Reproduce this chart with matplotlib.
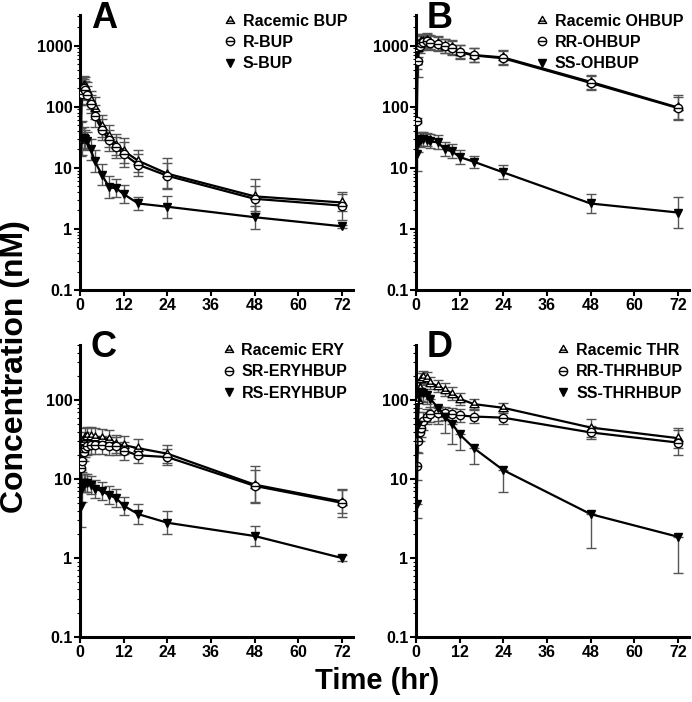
import numpy as np
import matplotlib
matplotlib.use("Agg")
import matplotlib.pyplot as plt
from matplotlib.path import Path
from matplotlib.lines import Line2D
from matplotlib.ticker import LogLocator, NullFormatter, FixedLocator

plt.rcParams['font.family'] = ['Liberation Sans', 'DejaVu Sans']

# sampling times (hr)
time_hr = [0.25, 0.5, 1, 1.5, 2, 3, 4, 6, 8, 10, 12, 16, 24, 48, 72]

# geometric means (nM) and fold spread (error bars are mean*/fold)
# panel A - bupropion
bup_rac = [170, 200, 230, 220, 180, 130, 95, 48, 33, 24, 19, 13, 8, 3.4, 2.7]
bup_rac_f = [1.6, 1.5, 1.4, 1.4, 1.4, 1.4, 1.5, 1.5, 1.5, 1.5, 1.6, 1.5, 1.8, 1.9, 1.4]
bup_r = [30, 160, 200, 190, 155, 110, 71, 42, 28, 21.5, 16.7, 11.2, 7.4, 3.1, 2.4]
bup_r_f = [1.5, 1.5, 1.4, 1.4, 1.4, 1.4, 1.5, 1.5, 1.5, 1.5, 1.6, 1.5, 1.6, 1.6, 1.7]
bup_s = [30, 31, 31, 30, 27, 20, 13, 7.7, 4.8, 4.6, 3.7, 2.6, 2.3, 1.55, 1.1]
bup_s_f = [1.9, 1.9, 1.5, 1.4, 1.4, 1.5, 1.5, 1.5, 1.5, 1.4, 1.4, 1.3, 1.5, 1.55, 1.05]

# panel B - hydroxybupropion
oh_rac = [570, 900, 1100, 1200, 1200, 1250, 1150, 1100, 1000, 950, 800, 700, 640, 255, 97]
oh_rac_f = [1.4, 1.4, 1.3, 1.3, 1.3, 1.3, 1.3, 1.3, 1.3, 1.3, 1.3, 1.3, 1.3, 1.3, 1.6]
oh_rr = [59, 550, 1000, 1100, 1150, 1200, 1100, 1050, 980, 920, 780, 690, 620, 245, 95]
oh_rr_f = [1.1, 1.8, 1.3, 1.3, 1.3, 1.3, 1.3, 1.3, 1.3, 1.3, 1.3, 1.3, 1.3, 1.3, 1.5]
oh_ss = [17, 25, 28, 30, 30, 29, 27, 26, 20, 18.5, 15, 12.5, 8.4, 2.6, 1.85]
oh_ss_f = [1.9, 1.4, 1.3, 1.3, 1.3, 1.3, 1.3, 1.3, 1.3, 1.3, 1.3, 1.25, 1.3, 1.45, 1.8]

# panel C - erythrohydrobupropion
ery_rac = [18, 25, 30, 34, 35, 35, 34, 33, 32, 28, 27, 24.6, 21, 8.5, 5.2]
ery_rac_f = [1.4, 1.4, 1.3, 1.3, 1.3, 1.3, 1.3, 1.3, 1.3, 1.3, 1.3, 1.3, 1.3, 1.7, 1.4]
ery_sr = [14, 17, 22, 25, 26, 27, 27, 27, 26, 26, 23, 20, 19, 8.2, 5.0]
ery_sr_f = [1.4, 1.4, 1.3, 1.3, 1.3, 1.3, 1.3, 1.3, 1.3, 1.3, 1.3, 1.25, 1.25, 1.6, 1.5]
ery_rs = [4.5, 7.8, 8.8, 9, 9, 8.3, 7.6, 7.0, 6.3, 5.7, 4.6, 3.6, 2.8, 1.9, 1.0]
ery_rs_f = [1.8, 1.5, 1.3, 1.3, 1.3, 1.3, 1.3, 1.3, 1.3, 1.3, 1.3, 1.35, 1.4, 1.35, 1.1]

# panel D - threohydrobupropion
thr_rac = [50, 100, 142, 186, 195, 190, 166, 150, 136, 121, 104, 89, 80, 45, 33]
thr_rac_f = [1.6, 1.4, 1.25, 1.2, 1.2, 1.2, 1.2, 1.2, 1.2, 1.2, 1.2, 1.15, 1.15, 1.3, 1.35]
thr_rr = [14.5, 30, 40, 45, 55, 62, 66, 68, 68, 66, 64, 62, 60, 39, 29]
thr_rr_f = [1.5, 1.4, 1.3, 1.3, 1.3, 1.25, 1.25, 1.25, 1.2, 1.2, 1.2, 1.2, 1.2, 1.2, 1.45]
thr_ss = [4.8, 48, 128, 125, 122, 115, 104, 80, 62, 50, 37, 24.5, 13, 3.6, 1.86]
thr_ss_f = [1.5, 1.6, 1.3, 1.3, 1.3, 1.3, 1.6, 1.6, 1.6, 1.8, 1.6, 1.6, 1.9, 2.7, 2.9]

panels = [
    ('A', ['Racemic BUP', 'R-BUP', 'S-BUP'],
     [(bup_rac, bup_rac_f), (bup_r, bup_r_f), (bup_s, bup_s_f)], 3200),
    ('B', ['Racemic OHBUP', 'RR-OHBUP', 'SS-OHBUP'],
     [(oh_rac, oh_rac_f), (oh_rr, oh_rr_f), (oh_ss, oh_ss_f)], 3200),
    ('C', ['Racemic ERY', 'SR-ERYHBUP', 'RS-ERYHBUP'],
     [(ery_rac, ery_rac_f), (ery_sr, ery_sr_f), (ery_rs, ery_rs_f)], 500),
    ('D', ['Racemic THR', 'RR-THRHBUP', 'SS-THRHBUP'],
     [(thr_rac, thr_rac_f), (thr_rr, thr_rr_f), (thr_ss, thr_ss_f)], 500),
]
lower_only = {'SS-THRHBUP'}

# markers: triangle / circle with a bar through the middle, filled down-triangle
circ = Path.unit_circle()
bar = Path([(-1, 0), (1, 0)], [Path.MOVETO, Path.LINETO])
circle_bar = Path.make_compound_path(circ, bar)
tri = Path([(0, 1), (-1, -0.7), (1, -0.7), (0, 1)],
           [Path.MOVETO, Path.LINETO, Path.LINETO, Path.CLOSEPOLY])
tri_bar = Path.make_compound_path(tri, Path([(-0.6, -0.15), (0.6, -0.15)], [Path.MOVETO, Path.LINETO]))
styles = [
    dict(marker=tri_bar, mfc='white', mec='black', ms=6.5),
    dict(marker=circle_bar, mfc='white', mec='black', ms=6),
    dict(marker='v', mfc='black', mec='black', ms=6),
]

fig = plt.figure(figsize=(6.92, 7.02), dpi=100)
boxes = [
    [0.1156, 0.587, 0.3945, 0.392],
    [0.601, 0.587, 0.3945, 0.392],
    [0.1156, 0.0926, 0.3945, 0.416],
    [0.601, 0.0926, 0.3945, 0.416],
]

t = np.array(time_hr)
for box, (letter, names, series, ymax) in zip(boxes, panels):
    ax = fig.add_axes(box)
    handles = []
    for (vals, fold), st, name in zip(series, styles, names):
        vals = np.array(vals)
        fold = np.array(fold)
        lo = vals - vals / fold
        hi = vals * fold - vals
        if name in lower_only:
            hi = np.zeros_like(hi)
        ax.errorbar(t, vals, yerr=[lo, hi], fmt='none', ecolor='#555555',
                    elinewidth=1.0, capsize=3.5, capthick=1.0, zorder=2)
        ax.plot(t, vals, color='black', lw=1.6, zorder=3, **st)
        handles.append(Line2D([], [], linestyle='none', color='black',
                              marker=st['marker'], mfc=st['mfc'], mec='black',
                              ms=6, label=name))
    ax.set_yscale('log')
    ax.set_ylim(0.1, ymax)
    ax.set_xlim(0, 75)
    ax.xaxis.set_major_locator(FixedLocator([0, 12, 24, 36, 48, 60, 72]))
    ax.yaxis.set_major_locator(FixedLocator([0.1, 1, 10, 100, 1000]))
    ax.yaxis.set_minor_locator(LogLocator(base=10, subs=np.arange(2, 10)))
    ax.yaxis.set_minor_formatter(NullFormatter())
    ax.set_yticklabels(['0.1', '1', '10', '100', '1000'])
    for s in ['top', 'right']:
        ax.spines[s].set_visible(False)
    for s in ['left', 'bottom']:
        ax.spines[s].set_linewidth(2.2)
    ax.tick_params(which='major', length=4, width=1.5, labelsize=11.5, pad=1.5)
    ax.tick_params(which='minor', length=2, width=0.8)
    for lab in ax.get_xticklabels() + ax.get_yticklabels():
        lab.set_fontweight('bold')
    ax.text(0.04, 1.05, letter, transform=ax.transAxes, fontsize=26,
            fontweight='bold', va='top', ha='left')
    ax.legend(handles=handles, loc='upper right', bbox_to_anchor=(1.02, 1.045),
              frameon=False, handlelength=0.6, handletextpad=0.5,
              labelspacing=0.4, borderpad=0.2,
              prop=dict(weight='bold', size=11.5))

fig.text(0.022, 0.478, 'Concentration (nM)', rotation=90, ha='center', va='center',
         fontsize=23, fontweight='bold')
fig.text(0.545, 0.03, 'Time (hr)', ha='center', va='center',
         fontsize=21, fontweight='bold')

fig.savefig('out.png', dpi=100)
